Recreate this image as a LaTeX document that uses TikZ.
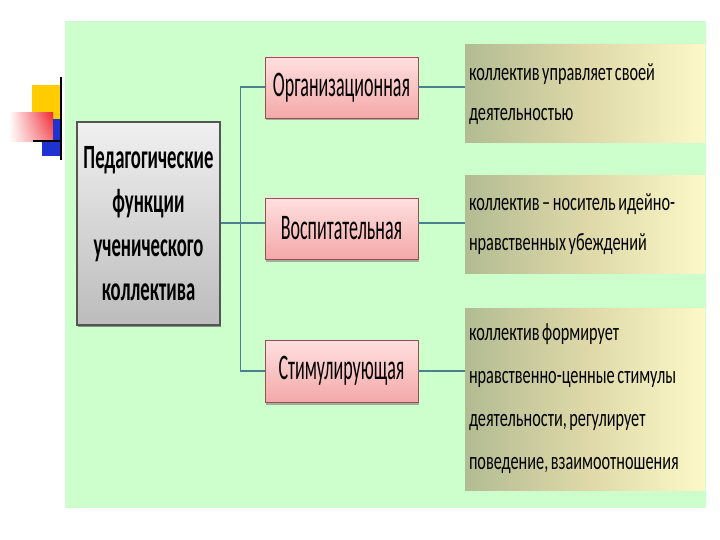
\documentclass[tikz,border=0pt]{standalone}
\usepackage{fontspec}
\setmainfont{Carlito}
\newfontfamily\mainfnt[FakeStretch=0.55]{Carlito}
\newfontfamily\midfnt[FakeStretch=0.50]{Carlito}
\newfontfamily\rightfnt[FakeStretch=0.65, WordSpace=0.7]{Carlito}
\usetikzlibrary{shadows,fadings}
\definecolor{bggreen}{RGB}{204,255,204}
\definecolor{linecol}{RGB}{75,128,142}
\definecolor{pinktop}{RGB}{255,224,224}
\definecolor{pinkbot}{RGB}{244,168,168}
\definecolor{pinkborder}{RGB}{150,80,80}
\definecolor{graytop}{RGB}{240,240,240}
\definecolor{graybot}{RGB}{188,188,188}
\definecolor{grayborder}{RGB}{85,85,85}
\definecolor{oliveleft}{RGB}{178,188,146}
\definecolor{olivemid}{RGB}{222,216,168}
\definecolor{yellowright}{RGB}{252,248,200}
\definecolor{decoyellow}{RGB}{255,204,0}
\definecolor{decoblue}{RGB}{30,50,210}
\definecolor{decored}{RGB}{240,40,50}
\tikzfading[name=fadedown, top color=transparent!100, bottom color=transparent!65]
\tikzset{
  mainbox/.style={draw=grayborder, line width=1.2pt, top color=graytop, bottom color=graybot,
    minimum width=143pt, minimum height=203pt, inner sep=0pt, align=center,
    font=\mainfnt\bfseries\fontsize{34}{44}\selectfont,
    drop shadow={shadow xshift=1pt, shadow yshift=-2pt, fill=black!55, opacity=0.8}},
  midbox/.style={draw=pinkborder, line width=0.6pt, top color=pinktop, bottom color=pinkbot,
    minimum width=153pt, inner sep=0pt, align=center,
    font=\midfnt\fontsize{36}{40}\selectfont,
    drop shadow={shadow xshift=1pt, shadow yshift=-2.5pt, fill=black!45, opacity=0.7}},
  rightbox/.style={left color=oliveleft, right color=yellowright, middle color=olivemid,
    minimum width=240pt, inner sep=0pt},
  rtext/.style={anchor=west, inner sep=0pt, align=left},
  rtext40/.style={rtext, font=\rightfnt\fontsize{25}{40}\selectfont},
  rtext43/.style={rtext, font=\rightfnt\fontsize{25}{43}\selectfont},
  branch/.style={draw=linecol, line width=2pt},
  trunkline/.style={draw=linecol, line width=1pt},
}
\begin{document}
\begin{tikzpicture}[x=1pt,y=-1pt]
\useasboundingbox (0,0) rectangle (720,540);
\fill[white] (0,0) rectangle (720,540);
% green panel
\fill[bggreen] (65,21) rectangle (706,508);
% decoration
\fill[decoyellow] (32,85) rectangle (60,119);
\fill[decoblue] (42,119) rectangle (62,156);
\shade[left color=white, right color=decored] (9,113) rectangle (53,142);
\fill[white, path fading=fadedown] (9,113) rectangle (53,142);
\draw[black, line width=2.5pt] (61,77) -- (61,160);
\draw[black, line width=2pt] (33,141) -- (62,141);
% nodes
\coordinate (tk) at (240,223.5);
\node[mainbox] (main) at (148.5,223.5) {Педагогические\\функции\\ученического\\коллектива};
\node[midbox, minimum height=61pt] (m1) at (341.5,87.5) {Организационная};
\node[midbox, minimum height=61pt] (m2) at (341.5,228.5) {Воспитательная};
\node[midbox, minimum height=62pt] (m3) at (341.5,371) {Стимулирующая};
\node[rightbox, minimum height=98pt] (r1) at (585,94) {};
\node[rightbox, minimum height=97pt] (r2) at (585,224.5) {};
\node[rightbox, minimum height=182pt] (r3) at (585,399) {};
\node[rtext40] (t1) at ([xshift=4pt]r1.west) {коллектив управляет своей\\деятельностью};
\node[rtext40] (t2) at ([xshift=4pt]r2.west) {коллектив – носитель идейно-\\нравственных убеждений};
\node[rtext43] (t3) at ([xshift=4pt]r3.west) {коллектив формирует\\нравственно-ценные стимулы\\деятельности, регулирует\\поведение, взаимоотношения};
% connectors
\draw[trunkline] (m1.west -| tk) -- (m3.west -| tk);
\draw[branch] (main.east) -- (tk);
\draw[branch] (m1.west -| tk) -- (m1.west);
\draw[branch] ([yshift=5pt]m2.west -| tk) -- ([yshift=5pt]m2.west);
\draw[branch] (m3.west -| tk) -- (m3.west);
\draw[branch] (m1.east) -- (m1.east -| r1.west);
\draw[branch] ([yshift=5pt]m2.east) -- ([yshift=5pt]m2.east -| r2.west);
\draw[branch] (m3.east) -- (m3.east -| r3.west);
\end{tikzpicture}
\end{document}
